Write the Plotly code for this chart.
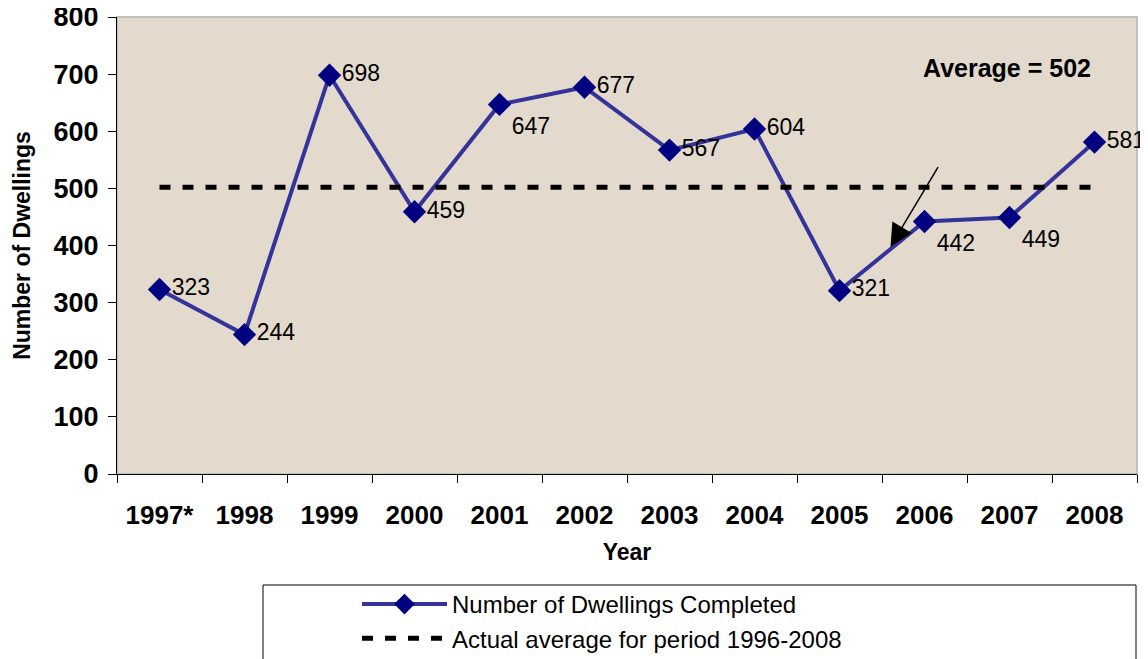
import plotly.graph_objects as go

years = ["1997*", "1998", "1999", "2000", "2001", "2002", "2003", "2004", "2005", "2006", "2007", "2008"]
dwellings = [323, 244, 698, 459, 647, 677, 567, 604, 321, 442, 449, 581]
average = [502] * len(years)
label_pos = ["middle right", "middle right", "middle right", "middle right", "bottom right",
             "middle right", "middle right", "middle right", "middle right", "bottom right",
             "bottom right", "middle right"]

# page offset (browser body margin)
OFF = 8
W, H = 1148 - OFF, 659 - OFF
PL, PR, PT, PB = 117, 1137, 17, 474   # plot area in page pixels
L, R, T = PL - OFF, W - (PR - OFF), PT - OFF
B = H - (PB - OFF)
pw, ph = W - L - R, H - T - B

def px(x):
    return (x - OFF - L) / pw

def py(y):
    return (H - B - (y - OFF)) / ph

FONT = "Liberation Sans, Arial"

fig = go.Figure()
fig.add_trace(go.Scatter(
    x=years, y=dwellings, name="Number of Dwellings Completed",
    mode="lines+markers+text",
    line=dict(color="#333399", width=4),
    marker=dict(symbol="diamond", size=18, color="#000080"),
    text=[str(v) for v in dwellings], textposition=label_pos,
    textfont=dict(family=FONT, size=23, color="black"),
    cliponaxis=False,
))
fig.add_trace(go.Scatter(
    x=years, y=average, name="Actual average for period 1996-2008",
    mode="lines",
    line=dict(color="black", width=5, dash="11px,12px"),
))

fig.update_layout(
    width=W, height=H,
    margin=dict(l=L, r=R, t=T, b=B, autoexpand=False),
    paper_bgcolor="white", plot_bgcolor="#e3dacd",
    font=dict(family=FONT, color="black"),
    showlegend=True,
    legend=dict(
        x=px(357), y=py(582), xanchor="left", yanchor="top",
        bgcolor="rgba(0,0,0,0)", borderwidth=0,
        font=dict(size=24), itemwidth=85, traceorder="normal",
    ),
    shapes=[
        dict(type="rect", xref="paper", yref="paper", x0=0, x1=1, y0=0, y1=1,
             line=dict(color="#c0c0c0", width=2), layer="below"),
        dict(type="rect", xref="paper", yref="paper", x0=px(263), x1=px(1136),
             y0=py(668), y1=py(585), line=dict(color="black", width=1)),
    ],
    annotations=[
        dict(x=px(1093), y=py(68), xref="paper", yref="paper", xanchor="right",
             yanchor="middle",
             text="<b>Average = 502</b>", showarrow=False, font=dict(size=25)),
        dict(x=8.6, y=398, ax=9.17, ay=540, xref="x", yref="y", axref="x", ayref="y",
             text="", showarrow=True, arrowhead=2, arrowsize=3, arrowwidth=1.5,
             arrowcolor="black"),
    ],
)
fig.update_xaxes(
    type="category", range=[-0.5, 11.5], tickson="boundaries",
    ticks="outside", ticklen=8, tickcolor="black", automargin=False,
    ticklabelstandoff=18, ticklabeloverflow="allow",
    showline=True, linecolor="black", linewidth=1, showgrid=False,
    tickfont=dict(size=26), tickprefix="<b>", ticksuffix="</b>",
    title=dict(text="<b>Year</b>", font=dict(size=23), standoff=14),
)
fig.update_yaxes(
    range=[0, 800], dtick=100, ticks="outside", ticklen=8, tickcolor="black",
    automargin=False, ticklabelstandoff=4, ticklabeloverflow="allow",
    showline=True, linecolor="black", linewidth=1, showgrid=False, zeroline=False,
    tickfont=dict(size=27), tickprefix="<b>", ticksuffix="</b>",
    title=dict(text="<b>Number of Dwellings</b>", font=dict(size=23), standoff=16),
)

fig.write_html("out.html")
